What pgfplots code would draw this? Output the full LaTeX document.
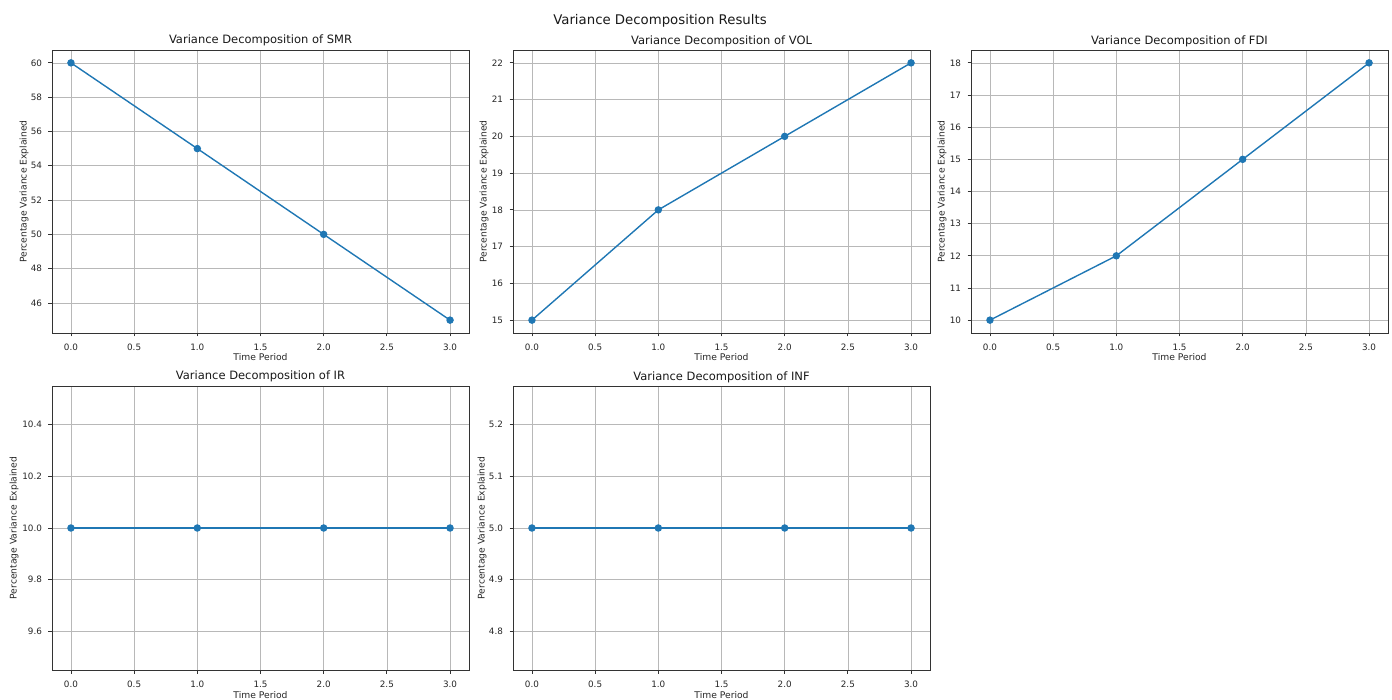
\documentclass[border=0pt]{standalone}
\usepackage{fontspec}
\setmainfont{DejaVu Sans}
\usepackage{pgfplots}
\pgfplotsset{compat=1.18}
\definecolor{mplblue}{HTML}{1F77B4}
\definecolor{gridgray}{HTML}{B8B8B8}
\pgfplotsset{
  vd/.style={
    scale only axis, width=417pt, anchor=south west,
    xmin=-0.15, xmax=3.15,
    xtick={0,0.5,1,1.5,2,2.5,3},
    xticklabel style={/pgf/number format/fixed, /pgf/number format/fixed zerofill, /pgf/number format/precision=1},
    /pgf/number format/assume math mode=true,
    tick label style={font=\fontsize{8.8}{10}\selectfont, text=black!85},
    xticklabel style={anchor=base, yshift=-14pt},
    yticklabel style={anchor=east, xshift=-3pt},
    label style={font=\fontsize{9.2}{11}\selectfont, text=black!85},
    title style={font=\fontsize{11.5}{13}\selectfont, text=black!90, at={(axis description cs:0.5,1)}, anchor=base},
    grid=major, major grid style={color=gridgray, line width=0.65pt},
    axis line style={black!80, line width=0.8pt},
    tick style={black!80, line width=0.8pt}, tickpos=left, tick align=outside, major tick length=3.5pt,
    xlabel={Time Period}, ylabel={Percentage Variance Explained},
    xlabel style={at={(axis description cs:0.5,0)}, anchor=base, yshift=-28pt},
  },
  vdline/.style={color=mplblue, line width=1.4pt, mark=*, mark size=3pt, mark options={fill=mplblue, draw=mplblue}},
}
\begin{document}
\begin{tikzpicture}[x=1pt,y=1pt]
\path[use as bounding box] (0,0) rectangle (1392,699);
\node[anchor=base, font=\fontsize{13.3}{15}\selectfont, text=black!90] at (660,674) {Variance Decomposition Results};

% SMR
\begin{axis}[vd, at={(52pt,366pt)}, height=283pt,
  ymin=44.25, ymax=60.75, ytick={46,48,50,52,54,56,58,60},
  title={Variance Decomposition of SMR},
  ylabel style={at={(axis description cs:-0.0671,0.5)}, anchor=center}]
\addplot[vdline] coordinates {(0,60) (1,55) (2,50) (3,45)};
\end{axis}

% VOL
\begin{axis}[vd, at={(513pt,366pt)}, height=283pt,
  ymin=14.65, ymax=22.35, ytick={15,16,17,18,19,20,21,22},
  title={Variance Decomposition of VOL},
  ylabel style={at={(axis description cs:-0.0695,0.5)}, anchor=center}]
\addplot[vdline] coordinates {(0,15) (1,18) (2,20) (3,22)};
\end{axis}

% FDI
\begin{axis}[vd, at={(971pt,366pt)}, height=283pt,
  ymin=9.6, ymax=18.4, ytick={10,11,12,13,14,15,16,17,18},
  title={Variance Decomposition of FDI},
  ylabel style={at={(axis description cs:-0.0695,0.5)}, anchor=center}]
\addplot[vdline] coordinates {(0,10) (1,12) (2,15) (3,18)};
\end{axis}

% IR
\begin{axis}[vd, at={(52pt,29pt)}, height=284pt,
  ymin=9.45, ymax=10.55, ytick={9.6,9.8,10.0,10.2,10.4},
  yticklabel style={/pgf/number format/fixed, /pgf/number format/fixed zerofill, /pgf/number format/precision=1},
  title={Variance Decomposition of IR},
  ylabel style={at={(axis description cs:-0.0911,0.5)}, anchor=center}]
\addplot[vdline] coordinates {(0,10) (1,10) (2,10) (3,10)};
\end{axis}

% INF
\begin{axis}[vd, at={(513pt,29pt)}, height=284pt,
  ymin=4.725, ymax=5.275, ytick={4.8,4.9,5.0,5.1,5.2},
  yticklabel style={/pgf/number format/fixed, /pgf/number format/fixed zerofill, /pgf/number format/precision=1},
  title={Variance Decomposition of INF},
  ylabel style={at={(axis description cs:-0.0743,0.5)}, anchor=center}]
\addplot[vdline] coordinates {(0,5) (1,5) (2,5) (3,5)};
\end{axis}
\end{tikzpicture}
\end{document}
